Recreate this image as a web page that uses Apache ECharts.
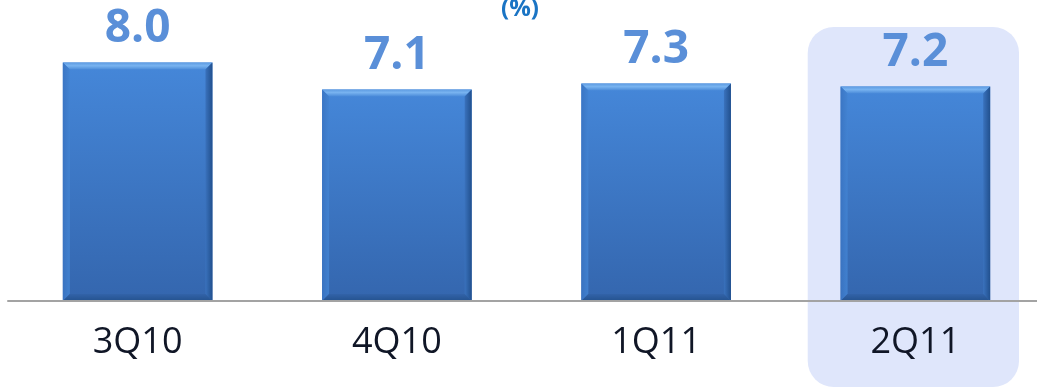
<!DOCTYPE html>
<html>
<head>
<meta charset="utf-8">
<script src="https://cdn.jsdelivr.net/npm/echarts@6/dist/echarts.min.js"></script>
<style>
  html, body { margin: 0; padding: 0; background: #ffffff; overflow: hidden; }
  /* the plotting area runs slightly past the right edge of the page */
  #chart { width: 1045px; height: 389px; }
</style>
</head>
<body>
<div id="chart"></div>
<script>
// Quarterly ratio, in percent
const quarters = ['3Q10', '4Q10', '1Q11', '2Q11'];
const ratios = [8.0, 7.1, 7.3, 7.2];
const highlightQuarter = '2Q11';
const unitLabel = '(%)';

const chart = echarts.init(document.getElementById('chart'), null, { renderer: 'canvas' });

const BAR_RATIO = 0.577;
const BEVEL = 7;

function renderBar(params, api) {
  const idx = api.value(0);
  const val = api.value(1);
  const topPt = api.coord([idx, val]);
  const basePt = api.coord([idx, 0]);
  const w = api.size([1, 0])[0] * BAR_RATIO;
  const x0 = topPt[0] - w / 2;
  const x1 = topPt[0] + w / 2;
  const y0 = topPt[1];
  const y1 = basePt[1];
  const b = BEVEL;
  return {
    type: 'group',
    children: [
      // body with drop shadow
      {
        type: 'rect',
        shape: { x: x0, y: y0, width: w, height: y1 - y0 },
        style: {
          fill: new echarts.graphic.LinearGradient(0, 0, 0, 1, [
            { offset: 0, color: '#4587d9' },
            { offset: 1, color: '#3466ae' }
          ]),
          shadowBlur: 8,
          shadowOffsetX: 2,
          shadowOffsetY: 3,
          shadowColor: 'rgba(0,0,0,0.35)'
        }
      },
      // top bevel
      {
        type: 'polygon',
        shape: { points: [[x0, y0], [x1, y0], [x1 - b, y0 + b], [x0 + b, y0 + b]] },
        style: {
          fill: new echarts.graphic.LinearGradient(0, 0, 0, 1, [
            { offset: 0, color: '#5d9be2' },
            { offset: 0.45, color: '#78b3f0' },
            { offset: 1, color: '#4a8bd9' }
          ])
        }
      },
      // left bevel
      {
        type: 'polygon',
        shape: { points: [[x0, y0], [x0 + b, y0 + b], [x0 + b, y1 - b], [x0, y1]] },
        style: {
          fill: new echarts.graphic.LinearGradient(0, 0, 1, 0, [
            { offset: 0, color: '#3a74c2' },
            { offset: 1, color: '#4283d2' }
          ]),
          opacity: 0.9
        }
      },
      // right bevel
      {
        type: 'polygon',
        shape: { points: [[x1, y0], [x1 - b, y0 + b], [x1 - b, y1 - b], [x1, y1]] },
        style: {
          fill: new echarts.graphic.LinearGradient(0, 0, 1, 0, [
            { offset: 0, color: '#3a72bd' },
            { offset: 1, color: '#21508e' }
          ])
        }
      },
      // bottom bevel
      {
        type: 'polygon',
        shape: { points: [[x0, y1], [x0 + b, y1 - b], [x1 - b, y1 - b], [x1, y1]] },
        style: {
          fill: new echarts.graphic.LinearGradient(0, 0, 0, 1, [
            { offset: 0, color: '#3263a8' },
            { offset: 1, color: '#24528f' }
          ])
        }
      },
      // value label
      {
        type: 'text',
        style: {
          text: val.toFixed(1),
          x: topPt[0],
          y: y0 - 34,
          align: 'center',
          verticalAlign: 'middle',
          fill: '#5a8fd8',
          font: 'bold 46px "Open Sans", sans-serif'
        }
      }
    ]
  };
}

const option = {
  animation: false,
  backgroundColor: '#ffffff',
  title: {
    text: unitLabel,
    left: 515,
    textAlign: 'center',
    top: -8,
    textStyle: {
      color: '#1a74c4',
      fontSize: 24,
      fontWeight: 'bold',
      fontFamily: '"Open Sans", sans-serif'
    }
  },
  grid: { left: 8, right: 0, top: 3, bottom: 88, containLabel: false },
  xAxis: {
    type: 'category',
    data: quarters,
    axisLine: { show: true, lineStyle: { color: '#a3a3a3', width: 2 } },
    axisTick: { show: false },
    axisLabel: {
      margin: 24,
      color: '#101626',
      fontSize: 36,
      lineHeight: 36,
      fontFamily: '"Open Sans", sans-serif'
    },
    z: 3
  },
  yAxis: {
    type: 'value',
    min: 0,
    max: 10,
    show: false,
    splitLine: { show: false }
  },
  series: [{
    type: 'custom',
    renderItem: renderBar,
    data: quarters.map((q, i) => [i, ratios[i]]),
    encode: { x: 0, y: 1 },
    clip: false,
    z: 2
  }]
};

chart.setOption(option);

// Rounded panel behind the highlighted quarter, placed from the axis scale
const hiIdx = quarters.indexOf(highlightQuarter);
const cx = chart.convertToPixel({ xAxisIndex: 0 }, hiIdx);
const step = chart.convertToPixel({ xAxisIndex: 0 }, 1) - chart.convertToPixel({ xAxisIndex: 0 }, 0);
const panelW = step * 0.815;
chart.setOption({
  graphic: [{
    type: 'rect',
    z: -10,
    silent: true,
    shape: { x: cx - panelW / 2 - 2, y: 27, width: panelW, height: 360, r: 26 },
    style: { fill: '#dfe6fb' }
  }]
});
</script>
</body>
</html>
